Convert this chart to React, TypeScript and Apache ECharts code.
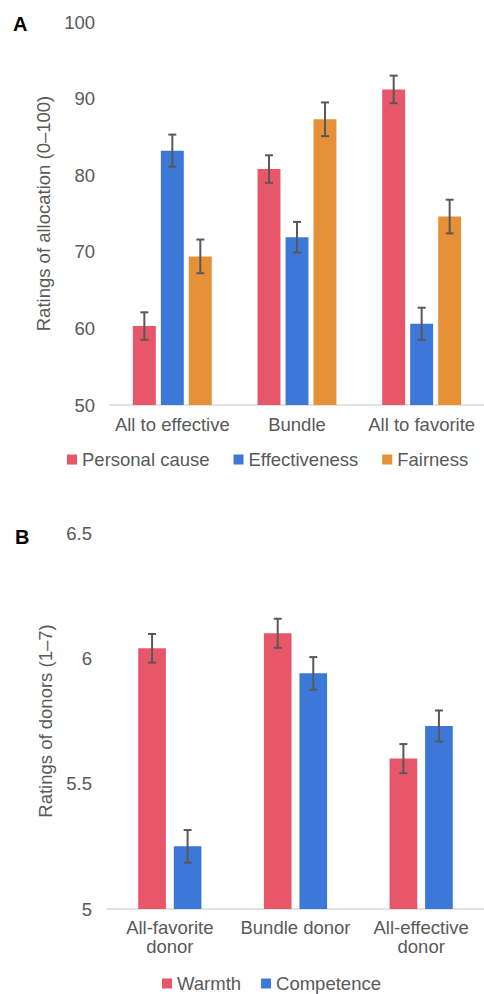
import React, { useEffect, useRef } from "react";
import * as echarts from "echarts";

// Panel A data
const catsA = ["All to effective", "Bundle", "All to favorite"];
const seriesNamesA = ["Personal cause", "Effectiveness", "Fairness"];
const personalCause = [60.3, 80.8, 91.2];
const effectiveness = [83.2, 71.9, 60.6];
const fairness = [69.4, 87.3, 74.6];
const personalCauseErr = [1.8, 1.8, 1.8];
const effectivenessErr = [2.1, 2.0, 2.1];
const fairnessErr = [2.2, 2.2, 2.2];
const ticksA = { min: 50, max: 100, interval: 10 };

// Panel B data
const catsB = ["All-favorite\ndonor", "Bundle donor", "All-effective\ndonor"];
const seriesNamesB = ["Warmth", "Competence"];
const warmth = [6.04, 6.1, 5.6];
const competence = [5.25, 5.94, 5.73];
const warmthErr = [0.057, 0.058, 0.058];
const competenceErr = [0.065, 0.065, 0.062];
const ticksB = { min: 5, max: 6.5, interval: 0.5 };

const RED = "#E8566A";
const BLUE = "#3C78D8";
const ORANGE = "#E69138";
const GREY = "#595959";
const FONT = "Liberation Sans";
const FS = 18.5;

function errSeries(
  name: string,
  values: number[],
  errs: number[],
  idx: number,
  count: number,
  barPct: number,
  gapPct: number,
  axisIndex: number
) {
  return {
    type: "custom",
    name,
    xAxisIndex: axisIndex,
    yAxisIndex: axisIndex,
    z: 10,
    silent: true,
    data: values.map((v, i) => [i, v - errs[i], v + errs[i]]),
    encode: { x: 0, y: [1, 2] },
    renderItem: (params: any, api: any) => {
      const band = api.size([1, 0])[0];
      const bw = band * barPct;
      const offset = (idx - (count - 1) / 2) * bw * (1 + gapPct);
      const lo = api.coord([api.value(0), api.value(1)]);
      const hi = api.coord([api.value(0), api.value(2)]);
      const x = lo[0] + offset;
      const cap = 4;
      const style = { stroke: GREY, lineWidth: 2 };
      return {
        type: "group",
        children: [
          { type: "line", shape: { x1: x, y1: lo[1], x2: x, y2: hi[1] }, style },
          { type: "line", shape: { x1: x - cap, y1: lo[1], x2: x + cap, y2: lo[1] }, style },
          { type: "line", shape: { x1: x - cap, y1: hi[1], x2: x + cap, y2: hi[1] }, style },
        ],
      };
    },
  };
}

export default function App() {
  const ref = useRef<HTMLDivElement>(null);
  useEffect(() => {
    if (!ref.current) return;
    const chart = echarts.init(ref.current, undefined, { renderer: "svg" });
    const barA = 0.184;
    const gapA = 0.22;
    const barB = 0.22;
    const gapB = 0.286;
    const axisLabelStyle = { color: GREY, fontSize: FS, fontFamily: FONT };
    const option: any = {
      animation: false,
      textStyle: { fontFamily: FONT },
      grid: [
        { left: 110, top: 22, width: 375, height: 383 },
        { left: 107, top: 533, width: 381, height: 376 },
      ],
      legend: [
        {
          data: seriesNamesA,
          left: 62,
          top: 450,
          icon: "rect",
          itemWidth: 10,
          itemHeight: 10,
          itemGap: 24,
          padding: [0, 5, 0, 5],
          textStyle: { color: GREY, fontSize: FS, fontFamily: FONT },
        },
        {
          data: seriesNamesB,
          left: 157,
          top: 974,
          icon: "rect",
          itemWidth: 10,
          itemHeight: 10,
          itemGap: 20,
          padding: [0, 5, 0, 5],
          textStyle: { color: GREY, fontSize: FS, fontFamily: FONT },
        },
      ],
      xAxis: [
        {
          type: "category",
          gridIndex: 0,
          data: catsA,
          axisTick: { show: false },
          axisLine: { lineStyle: { color: "#d9d9d9", width: 1.5 } },
          axisLabel: { ...axisLabelStyle, margin: 10, interval: 0 },
        },
        {
          type: "category",
          gridIndex: 1,
          data: catsB,
          axisTick: { show: false },
          axisLine: { lineStyle: { color: "#d9d9d9", width: 1.5 } },
          axisLabel: { ...axisLabelStyle, margin: 9, interval: 0, lineHeight: 19 },
        },
      ],
      yAxis: [
        {
          type: "value",
          gridIndex: 0,
          min: ticksA.min,
          max: ticksA.max,
          interval: ticksA.interval,
          splitLine: { show: false },
          axisLine: { show: false },
          axisTick: { show: false },
          axisLabel: { ...axisLabelStyle, margin: 15 },
          name: "Ratings of allocation (0–100)",
          nameLocation: "middle",
          nameGap: 50,
          nameTextStyle: { color: GREY, fontSize: FS, fontFamily: FONT },
        },
        {
          type: "value",
          gridIndex: 1,
          min: ticksB.min,
          max: ticksB.max,
          interval: ticksB.interval,
          splitLine: { show: false },
          axisLine: { show: false },
          axisTick: { show: false },
          axisLabel: { ...axisLabelStyle, margin: 15 },
          name: "Ratings of donors (1–7)",
          nameLocation: "middle",
          nameGap: 48,
          nameTextStyle: { color: GREY, fontSize: FS, fontFamily: FONT },
        },
      ],
      graphic: [
        {
          type: "text",
          left: 13,
          top: 14,
          style: { text: "A", fontSize: 20, fontWeight: "bold", fill: "#000", fontFamily: FONT },
        },
        {
          type: "text",
          left: 15,
          top: 527,
          style: { text: "B", fontSize: 20, fontWeight: "bold", fill: "#000", fontFamily: FONT },
        },
      ],
      series: [
        { type: "bar", name: seriesNamesA[0], xAxisIndex: 0, yAxisIndex: 0, data: personalCause, itemStyle: { color: RED }, barWidth: "18.4%", barGap: "22%" },
        { type: "bar", name: seriesNamesA[1], xAxisIndex: 0, yAxisIndex: 0, data: effectiveness, itemStyle: { color: BLUE }, barWidth: "18.4%", barGap: "22%" },
        { type: "bar", name: seriesNamesA[2], xAxisIndex: 0, yAxisIndex: 0, data: fairness, itemStyle: { color: ORANGE }, barWidth: "18.4%", barGap: "22%" },
        errSeries("errA0", personalCause, personalCauseErr, 0, 3, barA, gapA, 0),
        errSeries("errA1", effectiveness, effectivenessErr, 1, 3, barA, gapA, 0),
        errSeries("errA2", fairness, fairnessErr, 2, 3, barA, gapA, 0),
        { type: "bar", name: seriesNamesB[0], xAxisIndex: 1, yAxisIndex: 1, data: warmth, itemStyle: { color: RED }, barWidth: "22%", barGap: "28.6%" },
        { type: "bar", name: seriesNamesB[1], xAxisIndex: 1, yAxisIndex: 1, data: competence, itemStyle: { color: BLUE }, barWidth: "22%", barGap: "28.6%" },
        errSeries("errB0", warmth, warmthErr, 0, 2, barB, gapB, 1),
        errSeries("errB1", competence, competenceErr, 1, 2, barB, gapB, 1),
      ],
    };
    chart.setOption(option);
    return () => chart.dispose();
  }, []);
  return (
    <div
      ref={ref}
      style={{ position: "absolute", left: 0, top: 0, width: 484, height: 994, background: "#fff" }}
    />
  );
}
